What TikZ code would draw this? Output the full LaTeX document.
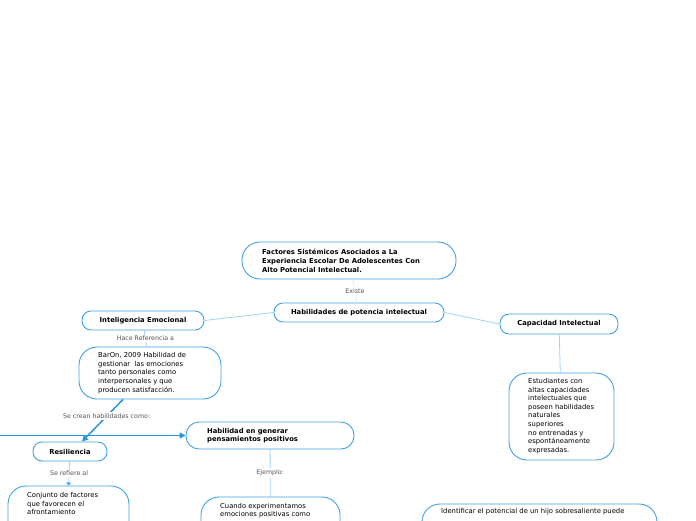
\documentclass[tikz,border=0pt]{standalone}
\usepackage{fontspec}
\setmainfont{DejaVu Sans}
\usetikzlibrary{arrows.meta,calc}
\definecolor{bcol}{HTML}{3FA0E6}
\definecolor{lcol}{HTML}{9ED3F5}
\definecolor{acol}{HTML}{2A93DE}
\definecolor{gcol}{HTML}{555555}
\newcommand\fsz{\fontsize{6.8}{8.6}\selectfont}
\newcommand\lsz{\fontsize{6.3}{7}\selectfont}
\tikzset{
  box/.style={draw=bcol, line width=0.9pt, fill=white, inner sep=0pt},
  pill/.style={box, rounded corners=9pt, font=\bfseries\fsz, align=center},
  txt/.style={anchor=west, inner sep=0pt, align=left, font=\fsz},
  lbl/.style={font=\lsz, text=gcol, fill=white, inner sep=1.5pt},
  conn/.style={draw=lcol, line width=0.8pt},
  thk/.style={draw=acol, line width=1.5pt, -{Triangle[length=6pt,width=6pt]}}
}
\begin{document}
\begin{tikzpicture}[x=1pt,y=-1pt]
\useasboundingbox (0,0) rectangle (696,520);
\clip (0,0) rectangle (696,520);
\coordinate (lft) at (0,435.5);
\node[box, rounded corners=18pt, minimum width=214pt, minimum height=37pt] (title) at (349,260.5) {};
\node[pill, minimum width=170pt, minimum height=19pt] (hab) at (359,312.5) {Habilidades de potencia intelectual};
\node[pill, minimum width=122pt, minimum height=19pt] (intel) at (143,320.5) {Inteligencia Emocional};
\node[pill, minimum width=118pt, minimum height=20pt] (cap) at (559,324) {Capacidad Intelectual};
\node[box, rounded corners=18pt, minimum width=142pt, minimum height=52pt] (baron) at (150,373) {};
\node[box, rounded corners=18pt, minimum width=105pt, minimum height=87pt] (estud) at (561.5,416.5) {};
\node[box, rounded corners=13pt, minimum width=168pt, minimum height=27pt] (hgen) at (270,435.5) {};
\node[pill, minimum width=74pt, minimum height=19pt] (resil) at (70,451.5) {Resiliencia};
\node[box, rounded corners=18pt, minimum width=121pt, minimum height=80pt] (conj) at (68.5,526) {};
\node[box, rounded corners=18pt, minimum width=139pt, minimum height=80pt] (cuando) at (270.5,537) {};
\node[box, rounded corners=18pt, minimum width=235pt, minimum height=80pt] (ident) at (539.5,544) {};

\node[txt, font=\bfseries\fontsize{6.8}{9}\selectfont] (titleT) at (262,261) {Factores Sistémicos Asociados a La\\Experiencia Escolar De Adolescentes Con\\Alto Potencial Intelectual.};
\node[txt] (baronT) at (98,373) {BarOn, 2009 Habilidad de\\gestionar\ \ las emociones\\tanto personales como\\interpersonales y que\\producen satisfacción.};
\node[txt] (estudT) at (528,416) {Estudiantes con\\altas capacidades\\intelectuales que\\poseen habilidades\\naturales\\superiores\\no entrenadas y\\espontáneamente\\expresadas.};
\node[txt, font=\bfseries\fsz] (hgenT) at (207,435.5) {Habilidad en generar\\pensamientos positivos};
\node[txt] (conjT) at (27,503.5) {Conjunto de factores\\que favorecen el\\afrontamiento};
\node[txt] (cuandoT) at (220,510.5) {Cuando experimentamos\\emociones positivas como};
\node[txt] (identT) at (441,512) {Identificar el potencial de un hijo sobresaliente puede};

\draw[conn, draw=lcol!40] (title) -- node[lbl]{Existe} (hab);
\draw[conn] (hab.west) -- (intel.east);
\draw[conn] (hab.east) -- (cap.west);
\draw[conn] (intel) -- node[lbl]{Hace Referencia a} (baron);
\draw[conn] (cap) -- (estud);
\draw[thk] ([xshift=-27pt]baron.south) -- node[lbl,pos=0.4]{Se crean habilidades como:} ([xshift=12pt]resil.north);
\draw[thk] (lft) -- (hgen.west);
\draw[conn, -{Triangle[length=3pt,width=5pt,color=bcol]}] (resil) -- node[lbl]{Se refiere al} (conj.north);
\draw[conn] (hgen) -- node[lbl]{Ejemplo:} (cuando);
\end{tikzpicture}
\end{document}
